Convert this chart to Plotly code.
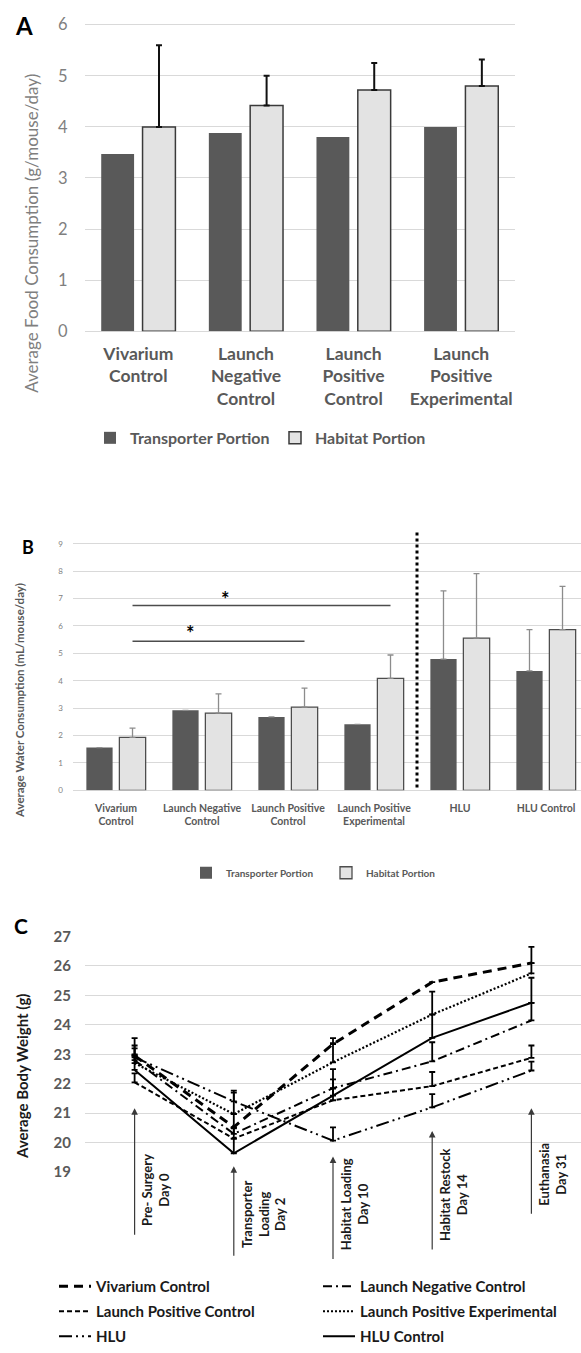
import plotly.graph_objects as go

W, H = 581, 1353
FONT = "Lato"

# ---------------- data ----------------
# Panel A: food consumption
cats_a = ["Vivarium<br>Control", "Launch<br>Negative<br>Control",
          "Launch<br>Positive<br>Control", "Launch<br>Positive<br>Experimental"]
food_transporter = [3.47, 3.88, 3.80, 4.00]
food_habitat = [4.00, 4.42, 4.72, 4.80]
food_habitat_err = [1.60, 0.58, 0.53, 0.52]
ticks_a = [0, 1, 2, 3, 4, 5, 6]

# Panel B: water consumption
cats_b = ["Vivarium<br>Control", "Launch Negative<br>Control", "Launch Positive<br>Control",
          "Launch Positive<br>Experimental", "HLU", "HLU Control"]
water_transporter = [1.56, 2.92, 2.68, 2.41, 4.79, 4.36]
water_transporter_err = [None, None, None, None, 2.49, 1.51]
water_habitat = [1.93, 2.82, 3.04, 4.09, 5.56, 5.87]
water_habitat_err = [0.34, 0.70, 0.69, 0.85, 2.35, 1.58]
ticks_b = [0, 1, 2, 3, 4, 5, 6, 7, 8, 9]
sig_from = [0, 0]
sig_to = [2, 3]
sig_line_level = [5.44, 6.75]
sig_star_x = [0.87, 1.27]
sig_star_level = [5.73, 6.98]

# Panel C: body weight
days = ["Pre- Surgery<br>Day 0", "Transporter<br>Loading<br>Day 2", "Habitat Loading<br>Day 10",
        "Habitat Restock<br>Day 14", "Euthanasia<br>Day 31"]
series_c = ["Vivarium Control", "Launch Negative Control", "Launch Positive Control",
            "Launch Positive Experimental", "HLU", "HLU Control"]
weight_vivarium = [22.95, 20.53, 23.35, 25.45, 26.10]
weight_lnc = [22.80, 20.30, 21.85, 22.76, 24.15]
weight_lpc = [22.05, 20.14, 21.44, 21.92, 22.88]
weight_lpe = [22.70, 20.97, 22.73, 24.35, 25.75]
weight_hlu = [22.90, 21.40, 20.07, 21.20, 22.45]
weight_hluc = [22.47, 19.64, 21.60, 23.56, 24.75]
err_vivarium = [0.60, 0.45, 0.20, 0.00, 0.55]
err_lnc = [0.50, 0.20, 0.30, 0.65, 0.60]
err_lpc = [0.30, 0.35, 0.40, 0.48, 0.42]
err_lpe = [0.30, 0.80, 0.65, 0.78, 0.35]
err_hlu = [0.30, 0.30, 0.45, 0.45, 0.30]
err_hluc = [0.50, 0.50, 0.90, 0.80, 0.85]
ticks_c = [19, 20, 21, 22, 23, 24, 25, 26, 27]
arrow_tip = [21.17, 19.20, 19.53, 20.40, 21.17]
arrow_len_px = [128, 91, 104, 120, 107]

# ---------------- helpers ----------------
def fx(p):
    return p / W


def fy(p):
    return 1 - p / H


def ydomain(zero_px, ppu, lo, hi):
    bottom = zero_px
    top = zero_px - (hi - lo) * ppu
    return [fy(bottom), fy(top)]


BAR_GAP = 0.232
BAR_GROUP_GAP = 0.205
half_slot = (1 - BAR_GAP) / 4

DARK = "#595959"
LIGHT = "#e3e3e3"
GRID = "#d9d9d9"

fig = go.Figure()

# ---------------- Panel A ----------------
xa = list(range(len(cats_a)))
fig.add_trace(go.Bar(x=xa, y=food_transporter, name="Transporter Portion",
                     marker=dict(color=DARK, line=dict(width=0)),
                     xaxis="x", yaxis="y", legend="legend"))
fig.add_trace(go.Bar(x=xa, y=food_habitat, name="Habitat Portion",
                     marker=dict(color=LIGHT, line=dict(color="#3a3a3a", width=1.5)),
                     error_y=dict(type="data", array=food_habitat_err, arrayminus=[0] * len(xa),
                                  symmetric=False, color="#111111", thickness=2, width=3),
                     xaxis="x", yaxis="y", legend="legend"))

# ---------------- Panel B ----------------
xb = list(range(len(cats_b)))
fig.add_trace(go.Bar(x=xb, y=water_transporter, name="Transporter Portion",
                     marker=dict(color=DARK, line=dict(width=0)),
                     error_y=dict(type="data", array=water_transporter_err,
                                  arrayminus=[0] * len(xb), symmetric=False,
                                  color="#8c8c8c", thickness=1.3, width=3),
                     xaxis="x2", yaxis="y2", legend="legend2"))
fig.add_trace(go.Bar(x=xb, y=water_habitat, name="Habitat Portion",
                     marker=dict(color=LIGHT, line=dict(color="#4d4d4d", width=1.3)),
                     error_y=dict(type="data", array=water_habitat_err,
                                  arrayminus=[0] * len(xb), symmetric=False,
                                  color="#8c8c8c", thickness=1.3, width=3),
                     xaxis="x2", yaxis="y2", legend="legend2"))

# ---------------- Panel C ----------------
xc = list(range(len(days)))
c_values = [weight_vivarium, weight_lnc, weight_lpc, weight_lpe, weight_hlu, weight_hluc]
c_errors = [err_vivarium, err_lnc, err_lpc, err_lpe, err_hlu, err_hluc]
c_dash = ["9px,6px", "9px,4px,2px,4px", "5px,3px", "2px,2px",
          "13px,4px,2px,4px,2px,4px", "solid"]
c_width = [3, 2, 2, 2.2, 2, 2]
c_legend = ["legend3", "legend4", "legend3", "legend4", "legend3", "legend4"]
for name, vals, errs, dash, lw, lg in zip(series_c, c_values, c_errors, c_dash, c_width, c_legend):
    fig.add_trace(go.Scatter(x=xc, y=vals, name=name, mode="lines",
                             line=dict(color="black", width=lw, dash=dash),
                             error_y=dict(type="data", array=errs, arrayminus=[0] * len(xc),
                                          symmetric=False, color="black", thickness=1.8, width=3),
                             legendgroup=name, xaxis="x3", yaxis="y3", legend=lg))

# ---------------- layout ----------------
yA = [0, 6.03]
yB = [0, 9.5]
yC = [18.97, 27.03]

fig.update_layout(
    width=W, height=H, margin=dict(l=0, r=0, t=0, b=0),
    paper_bgcolor="white", plot_bgcolor="white",
    barmode="group", bargap=BAR_GAP, bargroupgap=BAR_GROUP_GAP,
    font=dict(family=FONT, color=DARK),
    xaxis=dict(domain=[fx(84.5), fx(515)], range=[-0.5, 3.5], tickvals=xa, ticktext=cats_a,
               showgrid=False, zeroline=False, showline=False, ticks="",
               tickfont=dict(size=17.5, color=DARK, weight="bold"), ticklabelstandoff=10,
               anchor="y"),
    yaxis=dict(domain=ydomain(328.3, 52.05, *yA), range=yA, tickvals=ticks_a,
               showgrid=True, gridcolor=GRID, gridwidth=1.3, zeroline=True, zerolinecolor=GRID,
               zerolinewidth=1.3, showline=False, ticks="",
               tickfont=dict(size=16.5, color="#7f7f7f"), ticklabelstandoff=16, anchor="x"),
    xaxis2=dict(domain=[fx(73), 1.0], range=[-0.5, 5.407], tickvals=xb, ticktext=cats_b,
                showgrid=False, zeroline=False, showline=False, ticks="",
                tickfont=dict(size=10.5, color=DARK, weight="bold"), ticklabelstandoff=10,
                anchor="y2"),
    yaxis2=dict(domain=ydomain(796, 27.9, *yB), range=yB, tickvals=ticks_b,
                showgrid=True, gridcolor=GRID, gridwidth=1.2, zeroline=True, zerolinecolor=GRID,
                zerolinewidth=1.2, showline=False, ticks="",
                tickfont=dict(size=8, color="#7f7f7f"), ticklabelstandoff=9, anchor="x2"),
    xaxis3=dict(domain=[fx(85), 1.0], range=[-0.5, 4.5], tickvals=xc,
                showticklabels=False, showgrid=False, zeroline=False, showline=False,
                ticks="", anchor="y3"),
    yaxis3=dict(domain=ydomain(1185.9, 30.0, *yC), range=yC, tickvals=ticks_c,
                showgrid=True, gridcolor=GRID, gridwidth=1.3, zeroline=False, showline=False,
                ticks="", tickfont=dict(size=15, color=DARK, weight="bold"),
                ticklabelstandoff=13, anchor="x3"),
    legend=dict(orientation="h", x=fx(90), xanchor="left", y=fy(437), yanchor="middle",
                font=dict(size=16, color=DARK, weight="bold"), itemwidth=30,
                entrywidth=140, entrywidthmode="pixels", bgcolor="rgba(0,0,0,0)"),
    legend2=dict(orientation="h", x=fx(186), xanchor="left", y=fy(880), yanchor="middle",
                 font=dict(size=10, color=DARK, weight="bold"), itemwidth=30,
                 entrywidth=95, entrywidthmode="pixels", bgcolor="rgba(0,0,0,0)"),
    legend3=dict(orientation="v", x=fx(54), xanchor="left", y=fy(1285), yanchor="top",
                 font=dict(size=15, color="#1a1a1a", weight="bold"), itemwidth=32,
                 tracegroupgap=2.5, bgcolor="rgba(0,0,0,0)"),
    legend4=dict(orientation="v", x=fx(318), xanchor="left", y=fy(1285), yanchor="top",
                 font=dict(size=15, color="#1a1a1a", weight="bold"), itemwidth=32,
                 tracegroupgap=2.5, bgcolor="rgba(0,0,0,0)"),
)

shapes = []
annotations = []

# panel letters
for letter, px, py, size in [("A", 24, 17, 24), ("B", 28, 548, 18), ("C", 21, 934, 21)]:
    annotations.append(dict(text=letter, x=fx(px), y=fy(py), xref="paper", yref="paper",
                            showarrow=False, xanchor="center", yanchor="middle",
                            font=dict(size=size, color="black", family=FONT, weight="bold")))

# axis titles
annotations.append(dict(text="Average Food Consumption (g/mouse/day)", x=fx(32), y=fy(229),
                        xref="paper", yref="paper", showarrow=False, textangle=-90,
                        xanchor="center", yanchor="middle",
                        font=dict(size=17, color="#7f7f7f", family=FONT)))
annotations.append(dict(text="Average Water Consumption (mL/mouse/day)", x=fx(20), y=fy(705),
                        xref="paper", yref="paper", showarrow=False, textangle=-90,
                        xanchor="center", yanchor="middle",
                        font=dict(size=11.5, color=DARK, family=FONT, weight="bold")))
annotations.append(dict(text="Average Body Weight (g)", x=fx(22), y=fy(1088),
                        xref="paper", yref="paper", showarrow=False, textangle=-90,
                        xanchor="center", yanchor="middle",
                        font=dict(size=15, color="#1a1a1a", family=FONT, weight="bold")))

# panel B: separator and significance bars
shapes.append(dict(type="line", xref="x2", yref="y2", x0=3.5, x1=3.5, y0=0.1, y1=9.43,
                   line=dict(color="black", width=3, dash="dot")))
for a, b, lvl, sx, sl in zip(sig_from, sig_to, sig_line_level, sig_star_x, sig_star_level):
    shapes.append(dict(type="line", xref="x2", yref="y2", x0=a + half_slot, x1=b + half_slot,
                       y0=lvl, y1=lvl, line=dict(color="#4d4d4d", width=1.6)))
    annotations.append(dict(text="*", x=sx, y=sl, xref="x2", yref="y2", showarrow=False,
                            xanchor="center", yanchor="middle",
                            font=dict(size=20, color="black", family=FONT, weight="bold")))

# panel C: event arrows and labels
for i, (lab, tip, ln) in enumerate(zip(days, arrow_tip, arrow_len_px)):
    annotations.append(dict(text="", x=i, y=tip, xref="x3", yref="y3", ax=0, ay=ln,
                            showarrow=True, arrowhead=2, arrowsize=1.1, arrowwidth=1.2,
                            arrowcolor="#3a3a3a", standoff=0))
    bottom_px = (1185.9 - (tip - 18.97) * 30.0) + ln - 6
    annotations.append(dict(text=lab, x=i, y=fy(bottom_px), xref="x3", yref="paper",
                            xshift=3, showarrow=False, textangle=-90, align="center",
                            xanchor="left", yanchor="bottom",
                            font=dict(size=13, color="#1a1a1a", family=FONT, weight="bold")))

fig.update_layout(shapes=shapes, annotations=annotations)
fig.write_html("out.html")
